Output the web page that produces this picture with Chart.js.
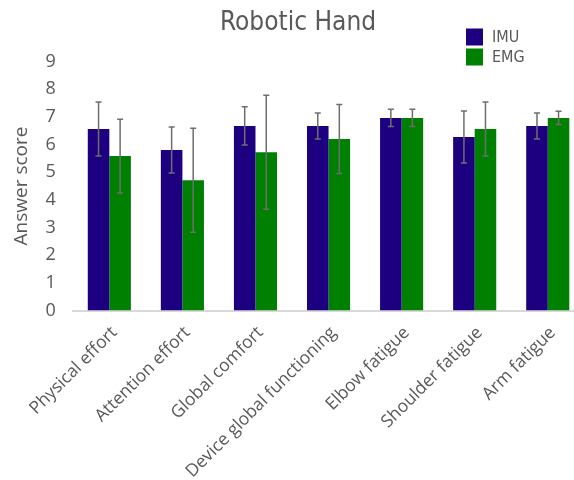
<!DOCTYPE html>
<html>
<head>
<meta charset="utf-8">
<script src="https://cdn.jsdelivr.net/npm/chart.js@4"></script>
<style>
  html, body { margin: 0; padding: 0; background: #fff; overflow: hidden; }
  #wrap { position: relative; width: 586px; height: 480px; }
</style>
</head>
<body>
<div id="wrap"><canvas id="c"></canvas></div>
<script>
const categories = ['Physical effort', 'Attention effort', 'Global comfort', 'Device global functioning', 'Elbow fatigue', 'Shoulder fatigue', 'Arm fatigue'];
const seriesNames = ['IMU', 'EMG'];
const imuMean = [6.56, 5.80, 6.67, 6.67, 6.96, 6.27, 6.67];
const imuErr  = [0.98, 0.83, 0.69, 0.47, 0.31, 0.94, 0.47];
const emgMean = [5.58, 4.71, 5.72, 6.20, 6.96, 6.56, 6.96];
const emgErr  = [1.33, 1.88, 2.06, 1.25, 0.31, 0.98, 0.24];
const yTicks = [0, 1, 2, 3, 4, 5, 6, 7, 8, 9];
const chartTitle = 'Robotic Hand';
const yTitle = 'Answer score';

const FONT = "'Open Sans', 'Noto Sans', sans-serif";
const TFONT = "'DejaVu Sans Condensed', 'DejaVu Sans', sans-serif";
const TEXT = '#595959';
const colors = ['#1d0080', '#008000'];
const errs = [imuErr, emgErr];

const errorBarPlugin = {
  id: 'errorBars',
  afterDatasetsDraw(chart) {
    const ctx = chart.ctx;
    const ys = chart.scales.y;
    ctx.save();
    ctx.strokeStyle = '#6e6e6e';
    ctx.lineWidth = 1.5;
    chart.data.datasets.forEach((ds, di) => {
      const meta = chart.getDatasetMeta(di);
      meta.data.forEach((bar, i) => {
        const v = ds.data[i], e = errs[di][i];
        const x = bar.x;
        const yt = ys.getPixelForValue(v + e);
        const yb = ys.getPixelForValue(v - e);
        ctx.beginPath();
        ctx.moveTo(x, yt); ctx.lineTo(x, yb);
        ctx.moveTo(x - 3, yt); ctx.lineTo(x + 3, yt);
        ctx.moveTo(x - 3, yb); ctx.lineTo(x + 3, yb);
        ctx.stroke();
      });
    });
    ctx.restore();
  }
};

const titleLegendPlugin = {
  id: 'titleLegend',
  afterDraw(chart) {
    const ctx = chart.ctx;
    ctx.save();
    ctx.fillStyle = TEXT;
    ctx.font = '26px ' + TFONT;
    ctx.textAlign = 'center';
    ctx.textBaseline = 'middle';
    ctx.fillText(chartTitle, 298, 23);
    ctx.font = '16px ' + TFONT;
    ctx.textAlign = 'left';
    seriesNames.forEach((n, i) => {
      const y = 28.5 + i * 20;
      ctx.fillStyle = colors[i];
      ctx.fillRect(466, y, 17, 17);
      ctx.fillStyle = TEXT;
      ctx.fillText(n, 492, y + 9);
    });
    ctx.restore();
  }
};

new Chart(document.getElementById('c'), {
  type: 'bar',
  data: {
    labels: categories,
    datasets: [
      { label: seriesNames[0], data: imuMean, backgroundColor: colors[0] },
      { label: seriesNames[1], data: emgMean, backgroundColor: colors[1] }
    ]
  },
  options: {
    responsive: true,
    maintainAspectRatio: false,
    animation: false,
    layout: { padding: { left: 8, right: 1.7, top: 61.5, bottom: 0 } },
    datasets: { bar: { categoryPercentage: 0.59, barPercentage: 1.0 } },
    plugins: { legend: { display: false }, title: { display: false }, tooltip: { enabled: false } },
    scales: {
      x: {
        grid: { display: false, drawTicks: false },
        border: { display: true, color: '#d9d9d9', width: 2 },
        ticks: { color: TEXT, font: { family: FONT, size: 17.5 }, minRotation: 45, maxRotation: 45, padding: 12, labelOffset: 5, autoSkip: false },
        afterFit(s) { s.height = 169.5; }
      },
      y: {
        min: 0, max: 9,
        afterBuildTicks(s) { s.ticks = yTicks.map(v => ({ value: v })); },
        grid: { display: false, drawTicks: false },
        border: { display: false },
        ticks: { color: TEXT, font: { family: FONT, size: 18 }, padding: 17 },
        title: { display: true, text: yTitle, color: TEXT, font: { family: FONT, size: 19 }, padding: { top: 2, bottom: 4 } },
        afterFit(s) { s.width = 64.8; }
      }
    }
  },
  plugins: [errorBarPlugin, titleLegendPlugin]
});
</script>
</body>
</html>
